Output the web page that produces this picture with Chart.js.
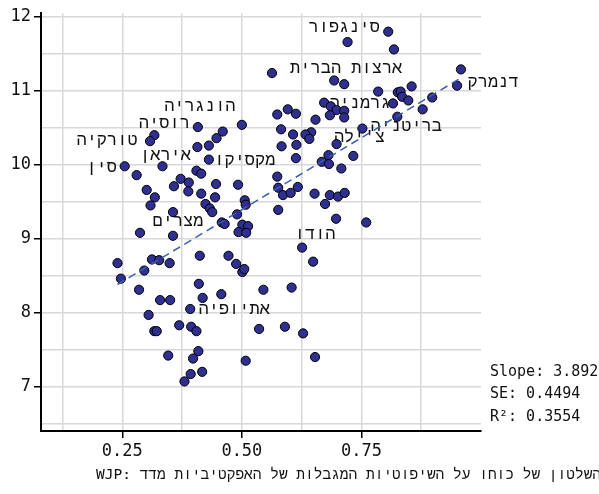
<!DOCTYPE html>
<html lang="he">
<head>
<meta charset="utf-8">
<script src="https://cdn.jsdelivr.net/npm/chart.js@4/dist/chart.umd.min.js"></script>
<style>
  html, body { margin: 0; padding: 0; background: #fff; }
</style>
</head>
<body>
<canvas id="scatter" width="599" height="494"></canvas>
<script>
// --- data: WJP judicial-constraints score vs. log GDP per capita ---
const wjpScore = [
  0.806, 0.721, 0.818, 0.958, 0.950, 0.563, 0.693, 0.714, 0.785, 0.826,
  0.832, 0.855, 0.835, 0.848, 0.816, 0.898, 0.878, 0.825, 0.752, 0.672,
  0.686, 0.698, 0.714, 0.684, 0.714, 0.654, 0.574, 0.596, 0.613, 0.500,
  0.582, 0.607, 0.645, 0.633, 0.641, 0.583, 0.614, 0.613, 0.698, 0.681,
  0.733, 0.667, 0.682, 0.708, 0.574, 0.576, 0.586, 0.602, 0.617, 0.652,
  0.684, 0.701, 0.715, 0.674, 0.576, 0.697, 0.760, 0.492, 0.506, 0.508,
  0.490, 0.458, 0.464, 0.501, 0.513, 0.493, 0.509, 0.408, 0.460, 0.447,
  0.431, 0.407, 0.317, 0.308, 0.431, 0.334, 0.255, 0.280, 0.405, 0.415,
  0.372, 0.389, 0.446, 0.358, 0.301, 0.318, 0.388, 0.415, 0.444, 0.309,
  0.424, 0.433, 0.438, 0.356, 0.287, 0.356, 0.240, 0.247, 0.312, 0.327,
  0.296, 0.349, 0.412, 0.472, 0.285, 0.329, 0.350, 0.410, 0.418, 0.457,
  0.488, 0.501, 0.505, 0.392, 0.305, 0.317, 0.322, 0.369, 0.394, 0.405,
  0.346, 0.409, 0.398, 0.393, 0.417, 0.380, 0.508, 0.545, 0.604, 0.536,
  0.590, 0.628, 0.653, 0.626, 0.649
];
const logGdp = [
  11.80, 11.66, 11.56, 11.29, 11.07, 11.24, 11.14, 11.09, 10.99, 10.98,
  10.99, 11.06, 10.92, 10.87, 10.83, 10.91, 10.75, 10.65, 10.49, 10.84,
  10.79, 10.74, 10.73, 10.67, 10.64, 10.61, 10.68, 10.75, 10.69, 10.54,
  10.48, 10.41, 10.44, 10.41, 10.35, 10.25, 10.27, 10.09, 10.28, 10.13,
  10.12, 10.04, 10.01, 9.95, 9.84, 9.69, 9.59, 9.62, 9.70, 9.61,
  9.59, 9.57, 9.62, 9.47, 9.39, 9.27, 9.22, 9.73, 9.52, 9.46,
  9.33, 9.22, 9.20, 9.19, 9.17, 9.09, 9.08, 10.51, 10.45, 10.36,
  10.26, 10.24, 10.40, 10.32, 10.07, 9.98, 9.98, 9.86, 9.92, 9.88,
  9.81, 9.76, 9.74, 9.71, 9.66, 9.56, 9.64, 9.61, 9.56, 9.45,
  9.47, 9.41, 9.36, 9.36, 9.08, 9.04, 8.67, 8.46, 8.72, 8.71,
  8.57, 8.67, 8.77, 8.77, 8.31, 8.17, 8.17, 8.39, 8.20, 8.25,
  8.66, 8.55, 8.59, 8.05, 7.97, 7.75, 7.75, 7.83, 7.81, 7.75,
  7.42, 7.48, 7.38, 7.17, 7.20, 7.07, 7.35, 8.31, 8.34, 7.78,
  7.81, 7.72, 7.40, 8.88, 8.69
];

// named countries and the point each name belongs to
const labelNames = [
  'סינגפור', 'ארצות הברית', 'דנמרק', 'גרמניה', 'בריטניה', "צ'ילה", 'הונגריה',
  'רוסיה', 'טורקיה', 'איראן', 'סין', 'מקסיקו', 'מצרים', 'הודו', 'אתיופיה'
];
const labelIndex = [0, 7, 4, 14, 17, 18, 67, 72, 73, 75, 76, 74, 93, 133, 113];

// OLS fit summary
const fitSlope = 3.892;
const fitSE = 0.4494;
const fitR2 = 0.3554;
const fitIntercept = 7.447;

// axes
const xGridValues = [0.125, 0.25, 0.375, 0.5, 0.625, 0.75, 0.875];
const xTickLabels = [0.25, 0.5, 0.75];
const yGridValues = [6.5, 7, 7.5, 8, 8.5, 9, 9.5, 10, 10.5, 11, 11.5, 12];
const yTickLabels = [7, 8, 9, 10, 11, 12];
const caption = 'WJP: מדד האפקטיביות של המגבלות השיפוטיות על כוחו של השלטון';

// --- drawing ---
const MONO = '"DejaVu Sans Mono", "Liberation Mono", monospace';
const HEB = '"Liberation Mono", "DejaVu Sans Mono", monospace';
const LRM = '\u200E';
// caption words keep their own shaping but follow each other left to right
const wordRun = s => s.split(' ').join(LRM + ' ');

// label placement relative to its point, px
const labelOffsets = [
  [-44, -4], [2, -16], [36, -3], [-33, 0], [9, 10], [-3, 9], [2, -21],
  [10, -12], [-43, -1], [3, -11], [-23, 1], [36, 1], [5, 9], [13, -13], [44, 1]
];

const points = wjpScore.map((v, i) => ({ x: v, y: logGdp[i] }));
const xLo = Math.min(...wjpScore), xHi = Math.max(...wjpScore);
const fitLine = [xLo, xHi].map(v => ({ x: v, y: fitIntercept + fitSlope * v }));

const annotate = {
  id: 'annotate',
  // names sit underneath the dots and the fit line
  beforeDatasetsDraw(chart) {
    const { ctx, scales: { x, y } } = chart;
    ctx.save();
    ctx.font = '17px ' + HEB;
    ctx.fillStyle = '#111';
    ctx.textAlign = 'center';
    ctx.textBaseline = 'middle';
    labelNames.forEach((name, i) => {
      const k = labelIndex[i];
      const [dx, dy] = labelOffsets[i];
      ctx.fillText(name, x.getPixelForValue(wjpScore[k]) + dx, y.getPixelForValue(logGdp[k]) + dy);
    });
    ctx.restore();
  },
  afterDraw(chart) {
    const { ctx, chartArea } = chart;
    ctx.save();
    ctx.font = '15px ' + MONO;
    ctx.fillStyle = '#111';
    ctx.textAlign = 'left';
    ctx.textBaseline = 'middle';
    const sx = chartArea.right + 9;
    ctx.fillText('Slope: ' + fitSlope.toFixed(3), sx, 372);
    ctx.fillText('SE: ' + fitSE.toFixed(4), sx, 394);
    ctx.fillText('R\u00B2: ' + fitR2.toFixed(4), sx, 417);
    ctx.font = '14.5px ' + MONO;
    ctx.fillText(wordRun(caption), 96, 475);
    ctx.restore();
  }
};

const axisCommon = {
  type: 'linear',
  border: { display: true, color: '#000', width: 2 },
  grid: { color: '#d8d8d8', lineWidth: 1.5, tickLength: 7, tickWidth: 1.5 },
  ticks: { autoSkip: false, maxRotation: 0, color: '#111', padding: 3, font: { family: MONO, size: 17 } }
};

new Chart(document.getElementById('scatter'), {
  type: 'scatter',
  data: {
    datasets: [
      {
        type: 'line',
        data: fitLine,
        borderColor: '#3a5fb4',
        borderWidth: 1.5,
        borderDash: [8, 5],
        pointRadius: 0,
        fill: false,
        order: 0
      },
      {
        data: points,
        backgroundColor: '#2f2f91',
        borderColor: '#000',
        borderWidth: 1,
        pointRadius: 4.6,
        order: 1
      }
    ]
  },
  options: {
    responsive: false,
    animation: false,
    layout: { padding: { top: 12, right: 118, left: 0, bottom: 0 } },
    plugins: { legend: { display: false }, tooltip: { enabled: false } },
    scales: {
      x: {
        ...axisCommon,
        min: 0.08,
        max: 1.0,
        afterFit: s => { s.height = 63; },
        afterBuildTicks: s => { s.ticks = xGridValues.map(v => ({ value: v })); },
        grid: { ...axisCommon.grid, tickColor: c => xTickLabels.includes(c.tick.value) ? '#000' : 'rgba(0,0,0,0)' },
        ticks: { ...axisCommon.ticks, callback: v => xTickLabels.includes(v) ? v.toFixed(2) : '' }
      },
      y: {
        ...axisCommon,
        min: 6.4,
        max: 12.05,
        afterFit: s => { s.width = 41; },
        afterBuildTicks: s => { s.ticks = yGridValues.map(v => ({ value: v })); },
        grid: { ...axisCommon.grid, tickColor: c => yTickLabels.includes(c.tick.value) ? '#000' : 'rgba(0,0,0,0)' },
        ticks: { ...axisCommon.ticks, callback: v => yTickLabels.includes(v) ? String(v) : '' }
      }
    }
  },
  plugins: [annotate]
});
</script>
</body>
</html>
